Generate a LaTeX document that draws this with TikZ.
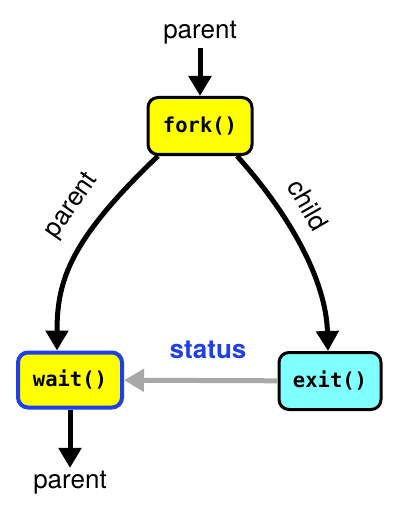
\documentclass[tikz,border=0pt]{standalone}
\usepackage{fontspec}
\setmainfont{TeX Gyre Heros}
\newfontfamily\codefont{DejaVu Sans Mono}
\usetikzlibrary{arrows.meta,positioning}
\definecolor{callyellow}{HTML}{FFFF00}
\definecolor{callcyan}{HTML}{80FFFF}
\definecolor{waitblue}{HTML}{1F40E8}
\definecolor{statusgray}{HTML}{A8A8A8}
\tikzset{callbox/.style={draw,line width=3pt,rounded corners=10pt,fill=callyellow,
        font=\codefont\bfseries\fontsize{20.5}{24}\selectfont},
    bigarrow/.style={line width=5pt,-{Triangle[length=20pt,width=22pt]}},
    flowlabel/.style={font=\fontsize{26}{30}\selectfont}
}

\begin{document}
\begin{tikzpicture}[x=1pt,y=-1pt]
\useasboundingbox (0,0) rectangle (402,505);

\node (fork) [callbox,minimum width=104pt,minimum height=57pt] at (200,126) {fork()};
\node (wait) [callbox,draw=waitblue,line width=4pt,minimum width=104pt,minimum height=55pt] at (70,380) {wait()};
\node (exit) [callbox,fill=callcyan,minimum width=102pt,minimum height=57pt] at (330,381) {exit()};

\node (top parent) [flowlabel] at (200,33) {parent};
\node (bottom parent) [flowlabel] at (70,483) {parent};
\node (status) [flowlabel,font=\bfseries\fontsize{26}{30}\selectfont,text=waitblue] at (208,350) {status};

\draw [bigarrow] (top parent) -- (fork);
\draw [bigarrow] (wait) -- (bottom parent);
\draw [bigarrow,draw=statusgray,fill=statusgray] (exit) -- (wait);

\draw [bigarrow] ([xshift=-42pt]fork.south) .. controls (70,240) and (57,280) .. (wait.north -| 57,0);
\draw [bigarrow] ([xshift=37pt]fork.south) .. controls (290,215) and (326,280) .. (exit.north -| 328,0);

\node (parent label) [flowlabel,rotate=55] at (72,206) {parent};
\node (child label) [flowlabel,rotate=-60] at (308,205) {child};

\end{tikzpicture}
\end{document}
